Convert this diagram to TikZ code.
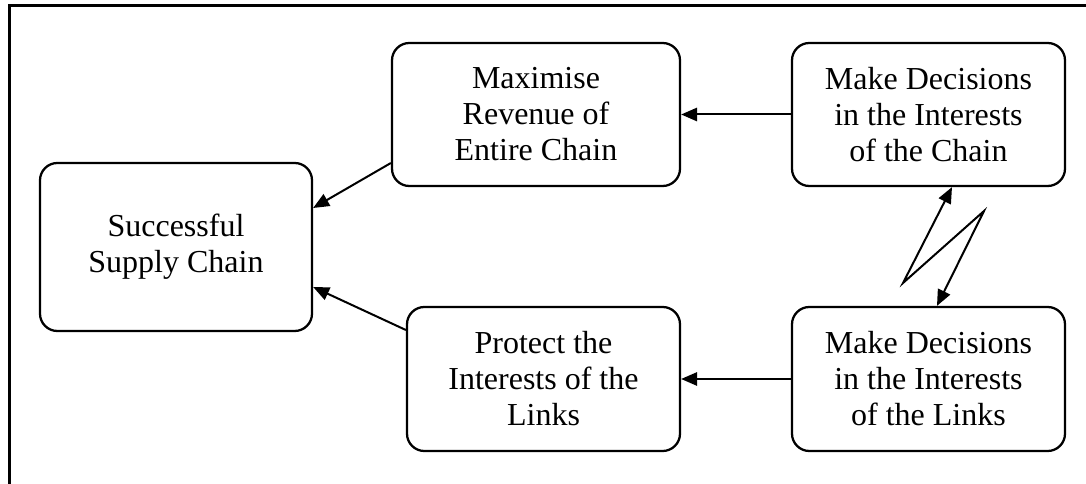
\documentclass[tikz,border=0pt]{standalone}
\usepackage{fontspec}
\setmainfont{Liberation Serif}
\usetikzlibrary{arrows.meta,calc}

\tikzset{
  tip/.tip={Triangle[length=12pt,width=10pt]},
  box/.style={draw, line width=1.7pt, rounded corners=13pt, align=center,
    inner sep=0pt, font=\fontsize{24}{27}\selectfont},
  link/.style={line width=1.5pt, -tip},
  frameline/.style={line width=2.3pt}
}

\begin{document}
\begin{tikzpicture}[x=0.75pt, y=-0.75pt]
  \useasboundingbox (0,0) rectangle (1086,484);

  % outer frame: top and left rules only
  \draw[frameline] (1086,5.3) -- (9.5,5.3) -- (9.5,484);

  % boxes
  \node[box, minimum width=272*0.75pt, minimum height=168*0.75pt] (succ) at (176,247)
    {Successful\\Supply Chain};
  \node[box, minimum width=288*0.75pt, minimum height=143*0.75pt] (max) at (536,114.5)
    {Maximise\\Revenue of\\Entire Chain};
  \node[box, minimum width=273*0.75pt, minimum height=143*0.75pt] (chain) at (928.5,114.5)
    {Make Decisions\\in the Interests\\of the Chain};
  \node[box, minimum width=273*0.75pt, minimum height=144*0.75pt] (prot) at (543.5,379)
    {Protect the\\Interests of the\\Links};
  \node[box, minimum width=273*0.75pt, minimum height=144*0.75pt] (links) at (928.5,379)
    {Make Decisions\\in the Interests\\of the Links};

  % horizontal connectors
  \draw[link] (chain.west) -- (max.east);
  \draw[link] (links.west) -- (prot.east);

  % slanted connectors into the goal box
  \draw[link] ($(max.west)+(0,48.5)$) -- ($(succ.east)+(0,-39)$);
  \draw[link] ($(prot.west)+(0,-49)$) -- ($(succ.east)+(0,40)$);

  % zigzag two-way link between the decision boxes
  \coordinate (zA) at (903,283);
  \coordinate (zB) at (984,211);
  \draw[link, tip-tip, line join=miter]
    ($(chain.south)+(23.5,0)$) -- (zA) -- (zB) -- ($(links.north)+(8.5,0)$);
\end{tikzpicture}
\end{document}
